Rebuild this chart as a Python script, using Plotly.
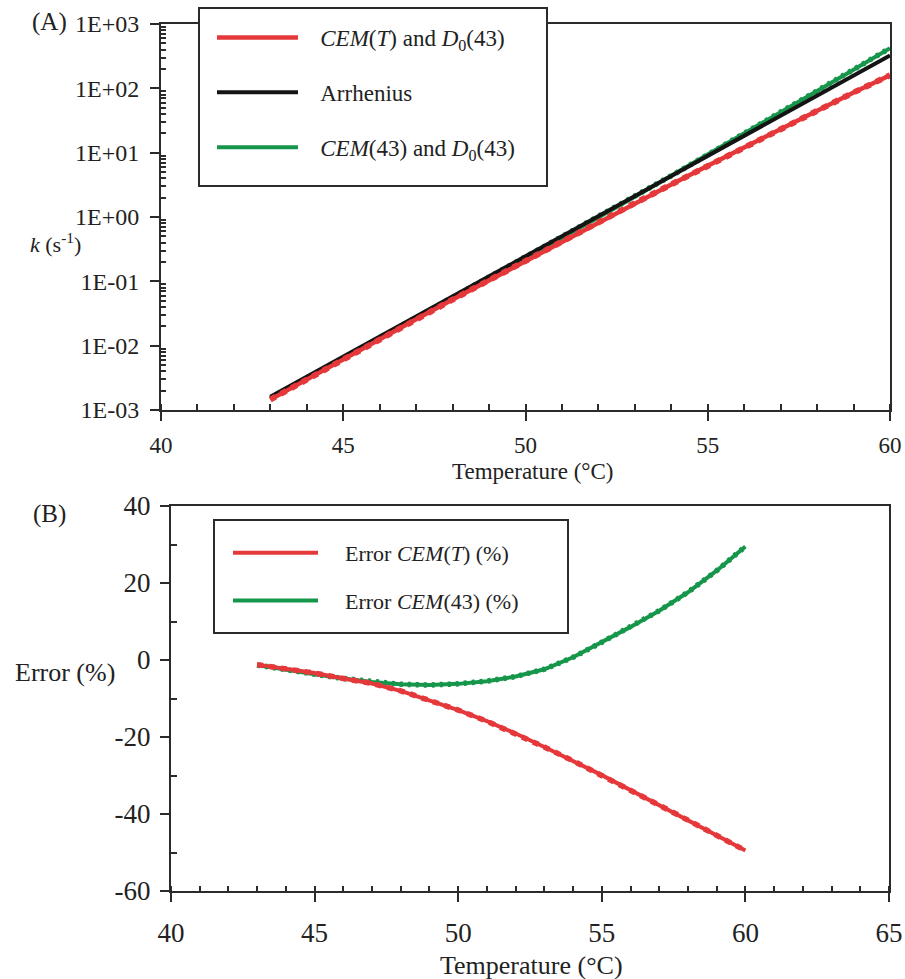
import plotly.graph_objects as go

# ---------------- data ----------------
temp = [43, 44, 45, 46, 47, 48, 49, 50, 51, 52, 53, 54, 55, 56, 57, 58, 59, 60]

k_arrhenius = [1.6e-3, 3.3e-3, 6.7e-3, 1.38e-2, 2.84e-2, 5.8e-2, 0.119, 0.245, 0.50,
               1.03, 2.12, 4.35, 8.9, 18.3, 37.5, 77, 158, 325]
k_cem_t = [1.45e-3, 3.0e-3, 6.1e-3, 1.25e-2, 2.57e-2, 5.2e-2, 0.104, 0.21, 0.415,
           0.83, 1.64, 3.21, 6.24, 12.1, 23.4, 45.0, 86.1, 160]
k_cem_43 = [1.5e-3, 3.1e-3, 6.35e-3, 1.3e-2, 2.65e-2, 5.4e-2, 0.111, 0.23, 0.473,
            0.986, 2.07, 4.38, 9.31, 19.9, 42.3, 90.6, 195, 421]

err_cem_t = [-1.2, -2.2, -3.4, -4.8, -6.1, -8.0, -10.5, -13.0, -15.9, -19.1, -22.6,
             -26.2, -29.9, -33.8, -37.7, -41.6, -45.5, -49.5]
err_cem_43 = [-1.3, -2.6, -3.7, -4.8, -5.7, -6.3, -6.5, -6.2, -5.5, -4.3, -2.4,
              0.7, 4.6, 8.6, 12.8, 17.6, 23.2, 29.5]

top_ytickvals = [1e-3, 1e-2, 1e-1, 1e0, 1e1, 1e2, 1e3]
top_yticktext = ["1E-03", "1E-02", "1E-01", "1E+00", "1E+01", "1E+02", "1E+03"]
bot_ytickvals = [-60, -40, -20, 0, 20, 40]
bot_yticktext = ["-60", "-40", "-20", "0", "20", "40"]

names_top = ["<i>CEM</i>(<i>T</i>) and <i>D</i><sub>0</sub>(43)", "Arrhenius",
             "<i>CEM</i>(43) and <i>D</i><sub>0</sub>(43)"]
names_bot = ["Error <i>CEM</i>(<i>T</i>) (%)", "Error <i>CEM</i>(43) (%)"]

RED = "#e5383b"
GREEN = "#16964a"
BLACK = "#141414"
AX = "#2b2b2b"
FONT = "Liberation Serif"
PAD3 = "\u00a0\u00a0\u00a0"
PAD4 = "\u00a0\u00a0\u00a0\u00a0"

W, H = 905, 979
def px(x):
    return x / W
def py(y):
    return 1 - y / H

fig = go.Figure()

# ---------------- top panel ----------------
fig.add_trace(go.Scatter(x=temp, y=k_cem_43, mode="lines", name=PAD3 + names_top[2],
                         line=dict(color=GREEN, width=4), legend="legend",
                         legendgroup="g3", legendrank=3, xaxis="x", yaxis="y"))
fig.add_trace(go.Scatter(x=temp, y=k_cem_43, mode="lines", showlegend=False,
                         line=dict(color=GREEN, width=5.5, dash="3px,5px"),
                         xaxis="x", yaxis="y", hoverinfo="skip"))
fig.add_trace(go.Scatter(x=temp, y=k_arrhenius, mode="lines", name=PAD3 + names_top[1],
                         line=dict(color=BLACK, width=4), legend="legend",
                         legendgroup="g2", legendrank=2, xaxis="x", yaxis="y"))
fig.add_trace(go.Scatter(x=temp, y=k_cem_t, mode="lines", name=PAD3 + names_top[0],
                         line=dict(color=RED, width=4.5), legend="legend",
                         legendgroup="g1", legendrank=1, xaxis="x", yaxis="y"))
fig.add_trace(go.Scatter(x=temp, y=k_cem_t, mode="lines", showlegend=False,
                         line=dict(color=RED, width=6, dash="6px,6px"),
                         xaxis="x", yaxis="y", hoverinfo="skip"))

# ---------------- bottom panel ----------------
fig.add_trace(go.Scatter(x=temp, y=err_cem_43, mode="lines", name=PAD4 + names_bot[1],
                         line=dict(color=GREEN, width=4), legend="legend2",
                         legendgroup="b2", legendrank=2, xaxis="x2", yaxis="y2"))
fig.add_trace(go.Scatter(x=temp, y=err_cem_43, mode="lines", showlegend=False,
                         line=dict(color=GREEN, width=5.5, dash="3px,5px"),
                         xaxis="x2", yaxis="y2", hoverinfo="skip"))
fig.add_trace(go.Scatter(x=temp, y=err_cem_t, mode="lines", name=PAD4 + names_bot[0],
                         line=dict(color=RED, width=4), legend="legend2",
                         legendgroup="b1", legendrank=1, xaxis="x2", yaxis="y2"))
fig.add_trace(go.Scatter(x=temp, y=err_cem_t, mode="lines", showlegend=False,
                         line=dict(color=RED, width=5.5, dash="6px,6px"),
                         xaxis="x2", yaxis="y2", hoverinfo="skip"))

axis_common = dict(showgrid=False, zeroline=False, showline=True, linecolor=AX,
                   linewidth=2, mirror=True, ticks="outside", tickcolor=AX,
                   tickwidth=2, color="#222", automargin=False)

top_minor = [m * 10.0 ** e for e in range(-3, 3) for m in range(2, 10)]

def ann(text, x, y, size):
    return dict(text=text, x=px(x), y=py(y), xref="paper", yref="paper",
                xanchor="center", yanchor="middle", showarrow=False,
                font=dict(size=size))

fig.update_layout(
    width=W, height=H, margin=dict(l=0, r=0, t=0, b=0, autoexpand=False),
    paper_bgcolor="white", plot_bgcolor="white",
    font=dict(family=FONT, color="#222", size=23),
    xaxis=dict(axis_common, domain=[px(161), px(890)], range=[40, 60],
               tickmode="array", tickvals=[40, 45, 50, 55, 60], ticklen=9,
               tickfont=dict(size=23), ticklabelstandoff=4,
               minor=dict(ticks="inside", tickmode="linear", dtick=1, ticklen=6,
                          tickwidth=2, tickcolor=AX),
               anchor="y"),
    yaxis=dict(axis_common, domain=[py(410), py(24)], type="log", range=[-3, 3],
               tickmode="array", tickvals=top_ytickvals, ticktext=top_yticktext,
               ticklen=9, tickfont=dict(size=24), ticklabelstandoff=6,
               minor=dict(ticks="inside", tickmode="array", tickvals=top_minor,
                          ticklen=5, tickwidth=1.5, tickcolor=AX),
               anchor="x"),
    xaxis2=dict(axis_common, domain=[px(171), px(889)], range=[40, 65],
                tickmode="array", tickvals=[40, 45, 50, 55, 60, 65], ticklen=9,
                tickfont=dict(size=27), ticklabelstandoff=8,
                minor=dict(ticks="inside", tickmode="linear", dtick=1, ticklen=5,
                           tickwidth=2, tickcolor=AX),
                anchor="y2"),
    yaxis2=dict(axis_common, domain=[py(891), py(506)], range=[-60, 40],
                tickmode="array", tickvals=bot_ytickvals, ticktext=bot_yticktext,
                ticklen=9, tickfont=dict(size=27), ticklabelstandoff=4,
                minor=dict(ticks="inside", tickmode="linear", tick0=-50, dtick=20,
                           ticklen=6, tickwidth=2, tickcolor=AX),
                anchor="x2"),
    legend=dict(x=px(212), y=py(16), xanchor="left", yanchor="top",
                bgcolor="rgba(0,0,0,0)", borderwidth=0, font=dict(size=23),
                tracegroupgap=22, itemwidth=81, traceorder="grouped"),
    legend2=dict(x=px(228), y=py(532), xanchor="left", yanchor="top",
                 bgcolor="rgba(0,0,0,0)", borderwidth=0, font=dict(size=22),
                 tracegroupgap=16, itemwidth=85, traceorder="grouped"),
    shapes=[
        dict(type="rect", xref="paper", yref="paper", x0=px(199), x1=px(547),
             y0=py(186), y1=py(8), fillcolor="white", line=dict(color=AX, width=2),
             layer="above"),
        dict(type="rect", xref="paper", yref="paper", x0=px(214), x1=px(568),
             y0=py(633), y1=py(520), fillcolor="white", line=dict(color=AX, width=2),
             layer="above"),
    ],
    annotations=[
        ann("(A)", 49, 22, 25),
        ann("(B)", 49, 514, 25),
        ann("<i>k</i> (s<sup>-1</sup>)", 55, 243, 22),
        ann("Error (%)", 65, 672, 26),
        ann("Temperature (°C)", 532, 471, 23),
        ann("Temperature (°C)", 531, 965, 26),
    ],
)

fig.write_html("out.html")
